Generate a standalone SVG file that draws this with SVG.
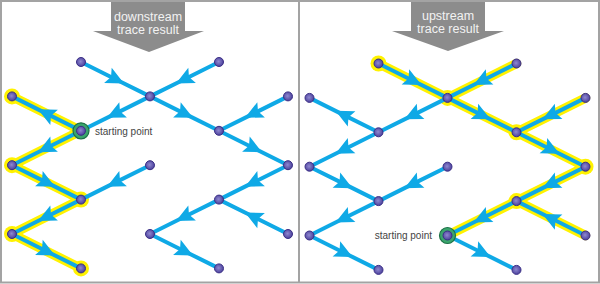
<svg xmlns="http://www.w3.org/2000/svg" width="600" height="284" viewBox="0 0 600 284">
<style>
.edge{fill:none;stroke:#0fa9e6;stroke-width:4;marker-mid:url(#arr)}
.hl{fill:none;stroke:#fff200;stroke-width:9.5;stroke-linecap:round;stroke-linejoin:round}
.halo{fill:#fff200}
.node{fill:url(#ng);stroke:#3b2f86;stroke-width:1}
.start{fill:#3aa56c;stroke:#1c7146;stroke-width:1.2}
.banner{fill:#8c8c8c}
.btxt{font-family:"Liberation Sans",Arial,sans-serif;font-size:12.5px;fill:#f2f2f2;text-anchor:middle}
.lbl{font-family:"Liberation Sans",Arial,sans-serif;font-size:10px;fill:#444}
</style>
<defs>
<radialGradient id="ng" cx="0.45" cy="0.45" r="0.6">
<stop offset="0" stop-color="#8f88d0"/>
<stop offset="1" stop-color="#463b98"/>
</radialGradient>
<marker id="arr" markerUnits="userSpaceOnUse" markerWidth="24" markerHeight="24" viewBox="-12 -12 24 24" refX="0" refY="0" orient="auto">
<path d="M9.5,0 L-8.5,-8.5 L-5,0 L-8.5,8.5 Z" fill="#0fa9e6"/>
</marker>
</defs>
<rect x="0" y="0" width="600" height="284" fill="#fff"/>
<rect x="1" y="1" width="598" height="281.5" fill="none" stroke="#a3a3a3" stroke-width="2"/>
<line x1="299" y1="1" x2="299" y2="283" stroke="#a3a3a3" stroke-width="2"/>

<g id="banner-down">
<path class="banner" d="M111,2 H185 V31 H204 L149,52 L93,31 H111 Z"/>
<text class="btxt" x="148" y="21">downstream</text>
<text class="btxt" x="148" y="34">trace result</text>
</g>
<g id="banner-up">
<path class="banner" d="M411,2 H485 V31 H504 L448,51 L392,31 H411 Z"/>
<text class="btxt" x="448" y="20">upstream</text>
<text class="btxt" x="448" y="33">trace result</text>
</g>

<!-- LEFT PANEL: downstream -->
<g id="left-highlight">
<path class="hl" d="M12,96.4 L81,130.8 L12,165.2 L81,199.6 L12,234 L81,268.4"/>
<circle class="halo" cx="12" cy="96.4" r="8"/>
<circle class="halo" cx="12" cy="165.2" r="8"/>
<circle class="halo" cx="81" cy="199.6" r="8"/>
<circle class="halo" cx="12" cy="234" r="8"/>
<circle class="halo" cx="81" cy="268.4" r="8"/>
</g>
<g id="left-connectors">
<path class="edge" d="M81,62 L115.5,79.2 L150,96.4"/>
<path class="edge" d="M219,62 L184.5,79.2 L150,96.4"/>
<path class="edge" d="M150,96.4 L115.5,113.6 L81,130.8"/>
<path class="edge" d="M150,96.4 L184.5,113.6 L219,130.8"/>
<path class="edge" d="M288,96.4 L253.5,113.6 L219,130.8"/>
<path class="edge" d="M81,130.8 L46.5,113.6 L12,96.4"/>
<path class="edge" d="M81,130.8 L46.5,148 L12,165.2"/>
<path class="edge" d="M12,165.2 L46.5,182.4 L81,199.6"/>
<path class="edge" d="M150,165.2 L115.5,182.4 L81,199.6"/>
<path class="edge" d="M81,199.6 L46.5,216.8 L12,234"/>
<path class="edge" d="M12,234 L46.5,251.2 L81,268.4"/>
<path class="edge" d="M219,130.8 L253.5,148 L288,165.2"/>
<path class="edge" d="M288,165.2 L253.5,182.4 L219,199.6"/>
<path class="edge" d="M219,199.6 L184.5,216.8 L150,234"/>
<path class="edge" d="M288,234 L253.5,216.8 L219,199.6"/>
<path class="edge" d="M150,234 L184.5,251.2 L219,268.4"/>
</g>
<g id="left-nodes">
<g id="L-A"><circle class="node" cx="81" cy="62" r="4.5"/></g>
<g id="L-B"><circle class="node" cx="219" cy="62" r="4.5"/></g>
<g id="L-C"><circle class="node" cx="12" cy="96.4" r="4.5"/></g>
<g id="L-D"><circle class="node" cx="150" cy="96.4" r="4.5"/></g>
<g id="L-E"><circle class="node" cx="288" cy="96.4" r="4.5"/></g>
<g id="L-F-start"><circle class="start" cx="81" cy="130.8" r="8"/><circle class="node" cx="81" cy="130.8" r="4.5"/><text class="lbl" x="95" y="134.5">starting point</text></g>
<g id="L-G"><circle class="node" cx="219" cy="130.8" r="4.5"/></g>
<g id="L-H"><circle class="node" cx="12" cy="165.2" r="4.5"/></g>
<g id="L-I"><circle class="node" cx="150" cy="165.2" r="4.5"/></g>
<g id="L-J"><circle class="node" cx="288" cy="165.2" r="4.5"/></g>
<g id="L-K"><circle class="node" cx="81" cy="199.6" r="4.5"/></g>
<g id="L-L"><circle class="node" cx="219" cy="199.6" r="4.5"/></g>
<g id="L-M"><circle class="node" cx="12" cy="234" r="4.5"/></g>
<g id="L-N"><circle class="node" cx="150" cy="234" r="4.5"/></g>
<g id="L-O"><circle class="node" cx="288" cy="234" r="4.5"/></g>
<g id="L-P"><circle class="node" cx="81" cy="268.4" r="4.5"/></g>
<g id="L-Q"><circle class="node" cx="219" cy="268.4" r="4.5"/></g>
</g>

<!-- RIGHT PANEL: upstream -->
<g transform="translate(297.5,1.5)">
<g id="right-highlight">
<path class="hl" d="M81,62 L150,96.4 L219,62"/>
<path class="hl" d="M150,96.4 L219,130.8 L288,96.4"/>
<path class="hl" d="M219,130.8 L288,165.2 L219,199.6 L150,234"/>
<path class="hl" d="M219,199.6 L288,234"/>
<circle class="halo" cx="81" cy="62" r="8"/>
<circle class="halo" cx="150" cy="96.4" r="8"/>
<circle class="halo" cx="219" cy="130.8" r="8"/>
<circle class="halo" cx="288" cy="165.2" r="8"/>
<circle class="halo" cx="219" cy="199.6" r="8"/>
</g>
<g id="right-connectors">
<path class="edge" d="M81,62 L115.5,79.2 L150,96.4"/>
<path class="edge" d="M219,62 L184.5,79.2 L150,96.4"/>
<path class="edge" d="M150,96.4 L115.5,113.6 L81,130.8"/>
<path class="edge" d="M150,96.4 L184.5,113.6 L219,130.8"/>
<path class="edge" d="M288,96.4 L253.5,113.6 L219,130.8"/>
<path class="edge" d="M81,130.8 L46.5,113.6 L12,96.4"/>
<path class="edge" d="M81,130.8 L46.5,148 L12,165.2"/>
<path class="edge" d="M12,165.2 L46.5,182.4 L81,199.6"/>
<path class="edge" d="M150,165.2 L115.5,182.4 L81,199.6"/>
<path class="edge" d="M81,199.6 L46.5,216.8 L12,234"/>
<path class="edge" d="M12,234 L46.5,251.2 L81,268.4"/>
<path class="edge" d="M219,130.8 L253.5,148 L288,165.2"/>
<path class="edge" d="M288,165.2 L253.5,182.4 L219,199.6"/>
<path class="edge" d="M219,199.6 L184.5,216.8 L150,234"/>
<path class="edge" d="M288,234 L253.5,216.8 L219,199.6"/>
<path class="edge" d="M150,234 L184.5,251.2 L219,268.4"/>
</g>
<g id="right-nodes">
<g id="R-A"><circle class="node" cx="81" cy="62" r="4.5"/></g>
<g id="R-B"><circle class="node" cx="219" cy="62" r="4.5"/></g>
<g id="R-C"><circle class="node" cx="12" cy="96.4" r="4.5"/></g>
<g id="R-D"><circle class="node" cx="150" cy="96.4" r="4.5"/></g>
<g id="R-E"><circle class="node" cx="288" cy="96.4" r="4.5"/></g>
<g id="R-F"><circle class="node" cx="81" cy="130.8" r="4.5"/></g>
<g id="R-G"><circle class="node" cx="219" cy="130.8" r="4.5"/></g>
<g id="R-H"><circle class="node" cx="12" cy="165.2" r="4.5"/></g>
<g id="R-I"><circle class="node" cx="150" cy="165.2" r="4.5"/></g>
<g id="R-J"><circle class="node" cx="288" cy="165.2" r="4.5"/></g>
<g id="R-K"><circle class="node" cx="81" cy="199.6" r="4.5"/></g>
<g id="R-L"><circle class="node" cx="219" cy="199.6" r="4.5"/></g>
<g id="R-M"><circle class="node" cx="12" cy="234" r="4.5"/></g>
<g id="R-N-start"><circle class="start" cx="150" cy="234" r="8"/><circle class="node" cx="150" cy="234" r="4.5"/><text class="lbl" x="134.5" y="237.5" text-anchor="end">starting point</text></g>
<g id="R-O"><circle class="node" cx="288" cy="234" r="4.5"/></g>
<g id="R-P"><circle class="node" cx="81" cy="268.4" r="4.5"/></g>
<g id="R-Q"><circle class="node" cx="219" cy="268.4" r="4.5"/></g>
</g>
</g>
</svg>
